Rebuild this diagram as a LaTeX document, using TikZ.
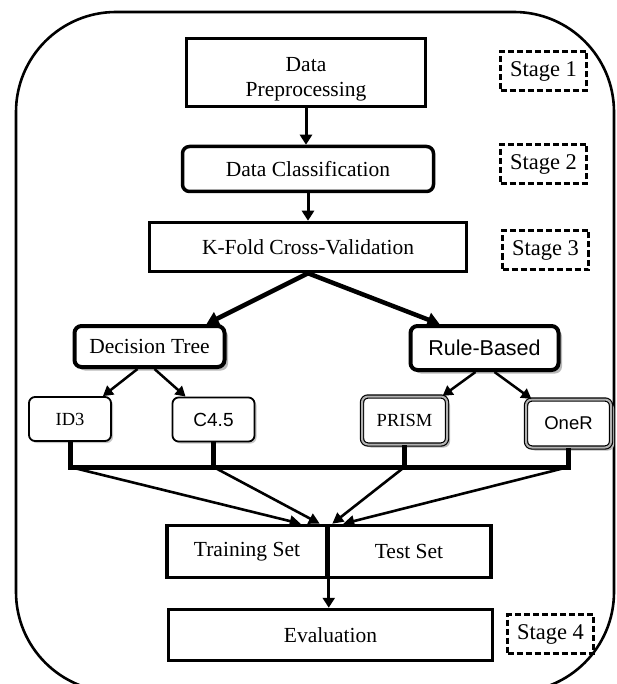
\documentclass[tikz,border=0pt]{standalone}
\usepackage{fontspec}
\setmainfont{Liberation Serif}
\newfontfamily\sansfam{Liberation Sans}
\usetikzlibrary{arrows.meta,calc,shadows}

\begin{document}
\begin{tikzpicture}[x=1pt,y=-1pt,
  txt/.style={font=\fontsize{21.5}{25}\selectfont},
  plainbox/.style={draw, line width=3.5pt, inner sep=0pt, align=center, fill=white, txt},
  roundbox/.style={plainbox, rounded corners=7pt},
  stagebox/.style={draw, line width=2.5pt, dash pattern=on 6pt off 3pt, inner sep=0pt,
    minimum width=86, minimum height=39, font=\fontsize{22.5}{26}\selectfont},
  methodbox/.style={draw, line width=4pt, rounded corners=7pt, inner sep=0pt, fill=white,
    drop shadow={shadow xshift=3.5pt, shadow yshift=-3.5pt, fill=gray!55, opacity=1}},
  leafbox/.style={draw, line width=1.8pt, rounded corners=6pt, inner sep=0pt, fill=white,
    minimum width=82, minimum height=44,
    drop shadow={shadow xshift=2pt, shadow yshift=-2pt, fill=gray!45, opacity=1}},
  ruleleaf/.style={draw=black, line width=1.2pt, double=gray!60, double distance=2pt,
    rounded corners=6pt, inner sep=0pt, fill=white, minimum width=85, minimum height=48,
    drop shadow={shadow xshift=3pt, shadow yshift=-3pt, fill=gray!55, opacity=1}},
  flowarr/.style={-{Triangle[length=10pt,width=12pt]}, line width=3pt},
  bigarr/.style={-{Triangle[length=12pt,width=14pt]}, line width=4.5pt},
  midarr/.style={-{Triangle[length=10pt,width=11pt]}, line width=2.5pt},
  joinarr/.style={-{Triangle[length=11pt,width=11pt]}, line width=2.6pt},
  barline/.style={line width=5pt, line join=miter}
]
\useasboundingbox (0,0) rectangle (617,684);

% outer frame
\draw[line width=2.6pt, rounded corners=100pt] (16,12) rectangle (614,692);

% main flow
\node[plainbox, minimum width=239, minimum height=68] (prep) at (306,72.5) {\rule{0pt}{27pt}Data\\Preprocessing};
\node[roundbox, minimum width=251, minimum height=45] (cls) at (308,169) {Data Classification};
\node[plainbox, minimum width=317, minimum height=49] (kfold) at (308,247) {K-Fold Cross-Validation};

% stage labels
\node[stagebox] (s1) at (543.5,71) {Stage 1};
\node[stagebox] (s2) at (543.5,164) {Stage 2};
\node[stagebox] (s3) at (545.5,250) {Stage 3};
\node[stagebox] (s4) at (550.5,634) {Stage 4};

% classifier families
\node[methodbox, minimum width=150, minimum height=41, txt] (dtree) at (149.5,346.5) {Decision Tree};
\node[methodbox, minimum width=148, minimum height=44, font=\sansfam\fontsize{21.5}{25}\selectfont] (rule) at (484.5,348) {Rule-Based};

% algorithms
\node[leafbox, font=\fontsize{18.5}{22}\selectfont] (id3) at (70,419) {ID3};
\node[leafbox, font=\sansfam\fontsize{19}{22}\selectfont] (c45) at (213.5,419.5) {C4.5};
\node[ruleleaf, font=\fontsize{18.5}{22}\selectfont] (prism) at (404.5,420.5) {PRISM};
\node[ruleleaf, font=\sansfam\fontsize{18.5}{22}\selectfont] (oner) at (568.5,423.5) {OneR};

% data split and evaluation
\node[plainbox, minimum width=160, minimum height=52] (train) at (247,551.5) {Training Set};
\node[plainbox, minimum width=164, minimum height=52] (test) at (409,551.5) {Test Set};
\node[plainbox, minimum width=324, minimum height=51] (eval) at (330.5,635) {Evaluation};

% stage flow arrows
\draw[flowarr] (prep.south) -- (prep.south |- cls.north);
\draw[flowarr] (cls.south) -- (cls.south |- kfold.north);
\draw[bigarr] (kfold.south) -- ($(dtree.north)+(57,0)$);
\draw[bigarr] (kfold.south) -- ($(rule.north)+(-45,0)$);

% family to algorithm arrows
\draw[midarr] ($(dtree.south)+(-12,0)$) -- ($(id3.north east)+(-9,0)$);
\draw[midarr] ($(dtree.south)+(5,0)$) -- ($(c45.north west)+(14,0)$);
\draw[midarr] ($(rule.south)+(-9,0)$) -- ($(prism.north east)+(-5,0)$);
\draw[midarr] ($(rule.south)+(10,0)$) -- ($(oner.north west)+(6,0)$);

% collecting bar
\coordinate (j1) at (id3.south |- 0,467);
\coordinate (j2) at (c45.south |- 0,467);
\coordinate (j3) at (prism.south |- 0,467);
\coordinate (j4) at (oner.south |- 0,467);
\draw[barline] (id3.south) -- (j1) -- (j4) -- (oner.south);
\draw[barline] (c45.south) -- (j2);
\draw[barline] (prism.south) -- (j3);

% arrows into the data split
\coordinate (t1) at ($(train.north east)+(-28,0)$);
\coordinate (t2) at ($(train.north east)+(-9,0)$);
\coordinate (t3) at ($(test.north west)+(7,0)$);
\coordinate (t4) at ($(test.north west)+(18,0)$);
\draw[joinarr] (j1) -- (t1);
\draw[joinarr] (j2) -- (t2);
\draw[joinarr] (j3) -- (t3);
\draw[joinarr] (j4) -- (t4);

% split to evaluation
\draw[flowarr] (train.north east) -- (train.north east |- eval.north);
\end{tikzpicture}
\end{document}
